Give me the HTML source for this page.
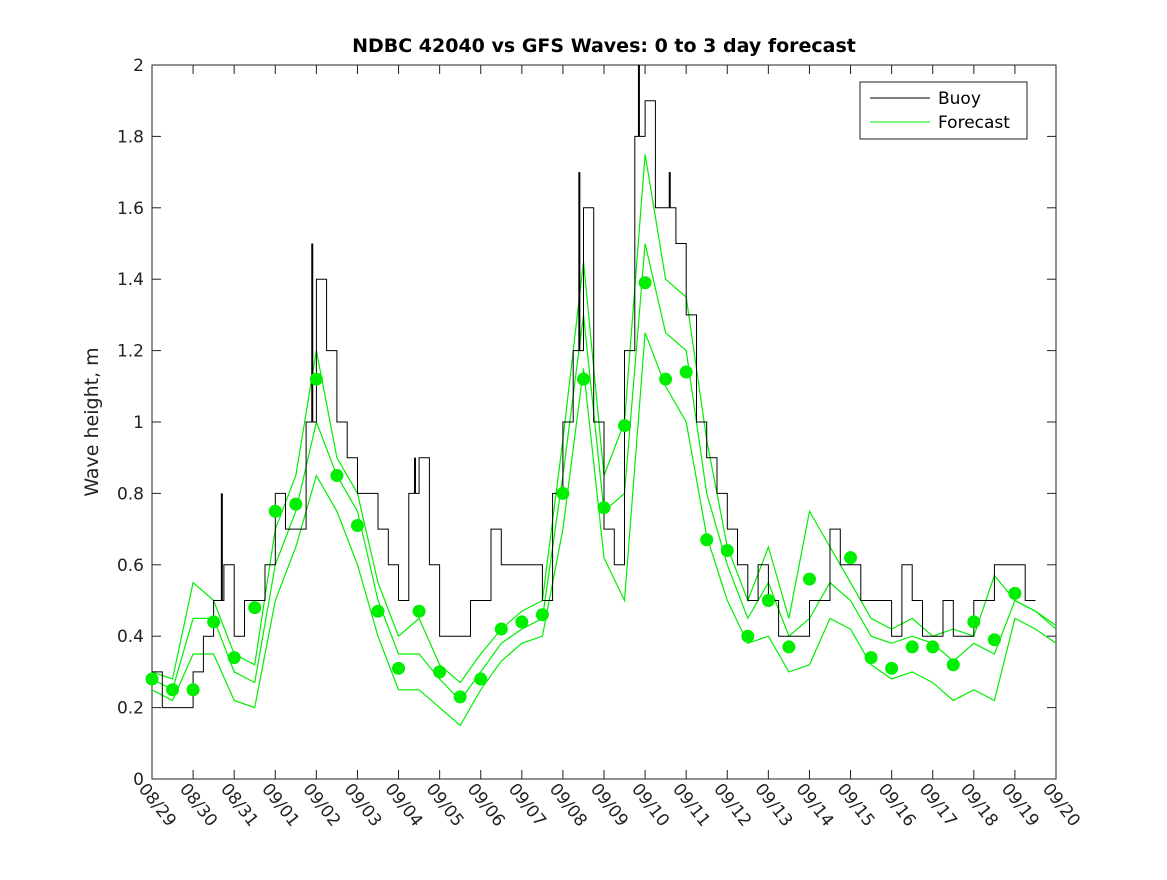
<!DOCTYPE html>
<html><head><meta charset="utf-8"><style>
body{margin:0;background:#fff;width:1167px;height:875px;overflow:hidden;font-family:"Liberation Sans",sans-serif}
</style></head><body>
<svg id="chart" width="1167" height="875" style="font-family:'DejaVu Sans','Liberation Sans',sans-serif">
<rect x="0" y="0" width="1167" height="875" fill="#fff"/>
<g id="plot"></g>
</svg>
<script>
const dateLabels=["08/29","08/30","08/31","09/01","09/02","09/03","09/04","09/05","09/06","09/07","09/08","09/09","09/10","09/11","09/12","09/13","09/14","09/15","09/16","09/17","09/18","09/19","09/20"];
const yTicks=[0,0.2,0.4,0.6,0.8,1,1.2,1.4,1.6,1.8,2];
// buoy sampled every 0.25 day from 08/29
const buoy=[0.3,0.2,0.2,0.2, 0.3,0.4,0.5,0.6, 0.4,0.5,0.5,0.6, 0.8,0.7,0.7,1.0, 1.4,1.2,1.0,0.9, 0.8,0.8,0.7,0.6, 0.5,0.8,0.9,0.6, 0.4,0.4,0.4,0.5, 0.5,0.7,0.6,0.6, 0.6,0.6,0.5,0.8, 1.0,1.2,1.6,1.0, 0.7,0.6,1.2,1.8, 1.9,1.6,1.6,1.5, 1.3,1.0,0.9,0.8, 0.7,0.6,0.5,0.6, 0.5,0.4,0.4,0.4, 0.5,0.5,0.7,0.6, 0.6,0.5,0.5,0.5, 0.4,0.6,0.5,0.4, 0.4,0.5,0.4,0.4, 0.5,0.5,0.6,0.6, 0.6,0.5];
const buoySpikes=[[1.7,0.8],[3.9,1.5],[6.4,0.9],[10.4,1.7],[11.85,2.0],[12.6,1.7],[13.6,0.9]];
const dotDays=[0,0.5,1,1.5,2,2.5,3,3.5,4,4.5,5,5.5,6,6.5,7,7.5,8,8.5,9,9.5,10,10.5,11,11.5,12,12.5,13,13.5,14,14.5,15,15.5,16,17,17.5,18,18.5,19,19.5,20,20.5,21];
const dotVals=[0.28,0.25,0.25,0.44,0.34,0.48,0.75,0.77,1.12,0.85,0.71,0.47,0.31,0.47,0.30,0.23,0.28,0.42,0.44,0.46,0.80,1.12,0.76,0.99,1.39,1.12,1.14,0.67,0.64,0.40,0.50,0.37,0.56,0.62,0.34,0.31,0.37,0.37,0.32,0.44,0.39,0.52];
// forecast series every 0.5 day (day 0 .. 22)
const fcA=[0.28,0.25,0.45,0.45,0.3,0.27,0.6,0.75,1.0,0.85,0.75,0.5,0.35,0.35,0.28,0.22,0.3,0.38,0.42,0.45,0.85,1.3,0.75,0.8,1.5,1.25,1.2,0.8,0.6,0.45,0.55,0.4,0.45,0.55,0.5,0.4,0.38,0.4,0.38,0.33,0.38,0.35,0.5,0.47,0.42];
const fcB=[0.25,0.22,0.35,0.35,0.22,0.2,0.5,0.65,0.85,0.75,0.6,0.4,0.25,0.25,0.2,0.15,0.25,0.33,0.38,0.4,0.7,1.15,0.62,0.5,1.25,1.1,1.0,0.68,0.5,0.38,0.4,0.3,0.32,0.45,0.42,0.32,0.28,0.3,0.27,0.22,0.25,0.22,0.45,0.42,0.38];
const fcC=[0.3,0.28,0.55,0.5,0.35,0.32,0.7,0.85,1.2,0.9,0.8,0.55,0.4,0.45,0.32,0.27,0.35,0.42,0.47,0.5,0.95,1.45,0.85,1.0,1.75,1.4,1.35,0.95,0.65,0.5,0.65,0.45,0.75,0.65,0.55,0.45,0.42,0.45,0.4,0.42,0.4,0.57,0.5,0.47,0.43];
const L=152,R=1056,T=65,B=779;
const xs=d=>L+d*(R-L)/22, ys=v=>B-v*(B-T)/2;
const NS="http://www.w3.org/2000/svg";
const g=document.getElementById('plot');
function mk(tag,attrs,parent){const e=document.createElementNS(NS,tag);for(const k in attrs)e.setAttribute(k,attrs[k]);(parent||g).appendChild(e);return e;}
const frame=mk('rect',{x:L,y:T,width:R-L,height:B-T,fill:'none',stroke:'#222','stroke-width':1});


yTicks.forEach(v=>{const y=ys(v);
 mk('line',{x1:L,x2:L+9,y1:y,y2:y,stroke:'#222'});mk('line',{x1:R,x2:R-9,y1:y,y2:y,stroke:'#222'});
 const t=mk('text',{x:L-8,y:y+6,'text-anchor':'end','font-size':17,fill:'#222'});t.textContent=v;
 
 });
dateLabels.forEach((s,i)=>{const x=xs(i);
 mk('line',{x1:x,x2:x,y1:B,y2:B-9,stroke:'#222'});mk('line',{x1:x,x2:x,y1:T,y2:T+9,stroke:'#222'});
 const t=mk('text',{x:0,y:0,'font-size':17,fill:'#222',transform:`translate(${x-14},${B+10}) rotate(52)`});t.textContent=s;
 
 });
function fcPath(arr){return arr.map((v,i)=>(i?'L':'M')+xs(i*0.5).toFixed(1)+','+ys(v).toFixed(1)).join('');}
[fcA,fcB,fcC].forEach(a=>{const p=mk('path',{d:fcPath(a),fill:'none',stroke:'#00ee00','stroke-width':1.2});
 
 });
let d='';buoy.forEach((v,i)=>{const x0=xs(i*0.25),x1=xs((i+1)*0.25);d+=(i?'L':'M')+x0.toFixed(1)+','+ys(v).toFixed(1)+'L'+x1.toFixed(1)+','+ys(v).toFixed(1);});
const bp=mk('path',{d:d,fill:'none',stroke:'#000','stroke-width':1});


buoySpikes.forEach(s=>{const l=mk('line',{x1:xs(s[0]),x2:xs(s[0]),y1:ys(s[1]),y2:ys(buoy[Math.floor(s[0]*4)]),stroke:'#000','stroke-width':2});
 
 });
dotDays.forEach((dd,i)=>{const c=mk('circle',{cx:xs(dd),cy:ys(dotVals[i]),r:6.5,fill:'#00ee00'});
 
 });
</script>
<svg width="1167" height="875" style="position:absolute;left:0;top:0;font-family:'DejaVu Sans','Liberation Sans',sans-serif">
<text x="604" y="52" text-anchor="middle" font-size="19" font-weight="bold" fill="#000">NDBC 42040 vs GFS Waves: 0 to 3 day forecast</text>
<text transform="translate(98,422) rotate(-90)" text-anchor="middle" font-size="19" fill="#222">Wave height, m</text>
<g>
<rect x="860" y="82" width="167" height="57" fill="#fff" stroke="#222"/>
<line x1="870" x2="930" y1="98" y2="98" stroke="#000"/>
<text x="938" y="104" font-size="17" fill="#000">Buoy</text>
<line x1="870" x2="930" y1="122" y2="122" stroke="#00ee00"/>
<text x="938" y="128" font-size="17" fill="#000">Forecast</text>
</g>
</svg>
</body></html>
